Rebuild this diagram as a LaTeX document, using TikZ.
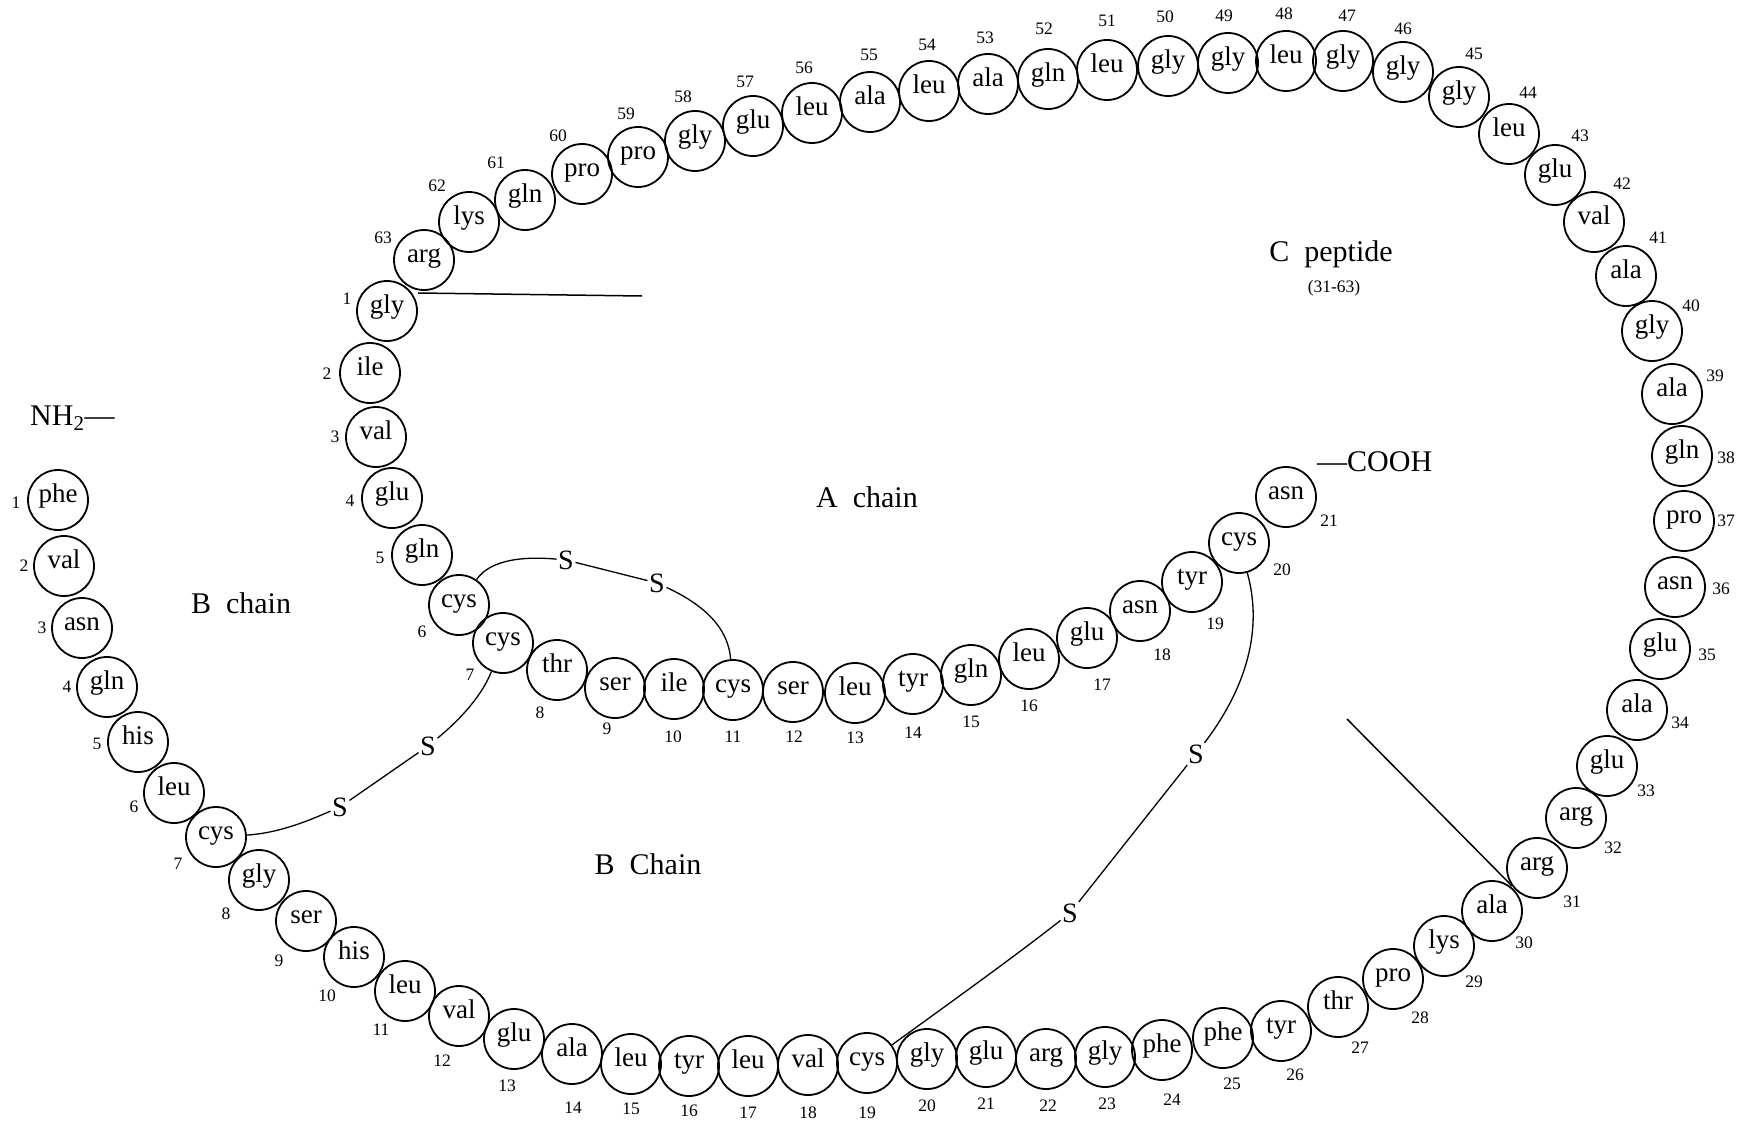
\documentclass[tikz,border=0pt]{standalone}
\usepackage{fontspec}
\setmainfont{Liberation Serif}
\begin{document}
\begin{tikzpicture}[x=1pt,y=-1pt,
  res/.style={circle,draw,line width=1.8pt,minimum size=60pt,inner sep=0pt,
    font=\fontsize{27}{32}\selectfont,text height=0.68em,text depth=0.2em},
  num/.style={inner sep=0pt,font=\fontsize{17.5}{20}\selectfont},
  lab/.style={inner sep=0pt,font=\fontsize{30}{34}\selectfont,anchor=base},
  sul/.style={inner sep=1.5pt,font=\fontsize{28}{32}\selectfont},
  bond/.style={line width=1.3pt},
  cut/.style={line width=1.5pt}]
\useasboundingbox (0,0) rectangle (1748,1121);

% B chain 1-30
\foreach \n/\t/\x/\y/\lx/\ly in {
 1/phe/58/500/16/503, 2/val/64/566/24/566, 3/asn/82/628/42/628, 4/gln/107/687/67/687,
 5/his/138/742/97/744, 6/leu/174/793/134/807, 7/cys/216/837/178/864, 8/gly/259/880/226/914,
 9/ser/306/921/279/961, 10/his/354/957/327/996, 11/leu/405/991/381/1030, 12/val/459/1016/442/1061,
 13/glu/514/1039/507/1086, 14/ala/572/1054/573/1108, 15/leu/631/1064/631/1109, 16/tyr/689/1066/689/1111,
 17/leu/748/1066/748/1113, 18/val/808/1065/808/1113, 19/cys/867/1063/867/1113, 20/gly/927/1059/927/1106,
 21/glu/986/1057/986/1104, 22/arg/1046/1059/1048/1106, 23/gly/1105/1057/1107/1104, 24/phe/1162/1050/1172/1100,
 25/phe/1223/1038/1232/1084, 26/tyr/1281/1031/1295/1075, 27/thr/1338/1007/1360/1048, 28/pro/1393/979/1420/1018,
 29/lys/1444/946/1474/982, 30/ala/1492/911/1524/943}
{ \node[res] (B\n) at (\x,\y) {\t}; \node[num] (nB\n) at (\lx,\ly) {\n}; }

% C peptide 31-63
\foreach \n/\t/\x/\y/\lx/\ly in {
 31/arg/1537/868/1572/902, 32/arg/1576/818/1613/848, 33/glu/1607/766/1646/791, 34/ala/1637/710/1680/723,
 35/glu/1660/649/1707/655, 36/asn/1675/587/1721/589, 37/pro/1684/521/1726/521, 38/gln/1682/456/1726/458,
 39/ala/1672/394/1715/376, 40/gly/1652/331/1691/306, 41/ala/1626/276/1658/238, 42/val/1594/222/1622/184,
 43/glu/1555/175/1580/136, 44/leu/1509/134/1528/93, 45/gly/1459/97/1474/54, 46/gly/1403/72/1403/29,
 47/gly/1343/61/1347/16, 48/leu/1286/61/1284/14, 49/gly/1228/63/1224/16, 50/gly/1168/66/1165/17,
 51/leu/1107/70/1107/21, 52/gln/1048/79/1044/29, 53/ala/988/84/985/38, 54/leu/929/91/927/45,
 55/ala/870/102/869/55, 56/leu/812/113/804/68, 57/glu/753/126/745/82, 58/gly/695/141/683/97,
 59/pro/638/157/626/114, 60/pro/582/174/558/136, 61/gln/525/200/496/163, 62/lys/469/222/437/186,
 63/arg/424/260/383/238}
{ \node[res] (C\n) at (\x,\y) {\t}; \node[num] (nC\n) at (\lx,\ly) {\n}; }

% A chain 1-21
\foreach \n/\t/\x/\y/\lx/\ly in {
 1/gly/387/311/347/299, 2/ile/370/373/327/374, 3/val/376/437/335/437, 4/glu/392/498/350/501,
 5/gln/422/555/380/558, 6/cys/459/605/422/632, 7/cys/503/643/470/675, 8/thr/557/670/540/713,
 9/ser/615/688/607/729, 10/ile/674/689/673/737, 11/cys/733/690/733/737, 12/ser/793/692/794/737,
 13/leu/855/693/855/738, 14/tyr/913/684/913/733, 15/gln/971/675/971/722, 16/leu/1029/659/1029/706,
 17/glu/1087/638/1102/685, 18/asn/1140/611/1162/655, 19/tyr/1192/582/1215/624, 20/cys/1239/543/1282/570,
 21/asn/1286/497/1329/521}
{ \node[res] (A\n) at (\x,\y) {\t}; \node[num] (nA\n) at (\lx,\ly) {\n}; }

% labels
\node[lab,anchor=base west] (nh2) at (30,425) {NH\textsubscript{2}—};
\node[lab,anchor=base west] (cooh) at (1317,471) {—COOH};
\node[lab] (achain) at (867,507) {A\enspace chain};
\node[lab] (bchain) at (241,613) {B\enspace chain};
\node[lab] (bchain2) at (648,874) {B\enspace Chain};
\node[lab] (cpep) at (1331,261) {C\enspace peptide};
\node[num,anchor=base] (cpeprange) at (1334,292) {(31-63)};

% disulfide S atoms
\node[sul] (S1) at (566,560) {S};
\node[sul] (S2) at (657,583) {S};
\node[sul] (S3) at (340,807) {S};
\node[sul] (S4) at (428,746) {S};
\node[sul] (S5) at (1070,913) {S};
\node[sul] (S6) at (1196,754) {S};

% A6 - A11
\draw[bond] (A6) .. controls (490,560) and (522,556) .. (S1);
\draw[bond] (S1) -- (S2);
\draw[bond] (S2) .. controls (700,603) and (728,625) .. (A11);
% B7 - A7
\draw[bond] (B7) .. controls (280,833) and (310,820) .. (S3);
\draw[bond] (S3) -- (S4);
\draw[bond] (S4) .. controls (462,718) and (482,695) .. (A7);
% B19 - A20
\draw[bond] (B19) .. controls (940,1010) and (1010,960) .. (S5);
\draw[bond] (S5) -- (S6);
\draw[bond] (S6) .. controls (1237,700) and (1266,640) .. (A20);

% cleavage marks
\coordinate (cutA) at (418,293);
\coordinate (cutAend) at (642,296);
\draw[cut] (cutA) -- (cutAend);
\coordinate (cutB) at (1512,886);
\coordinate (cutBend) at (1347,719);
\draw[cut] (cutB) -- (cutBend);
\end{tikzpicture}
\end{document}
